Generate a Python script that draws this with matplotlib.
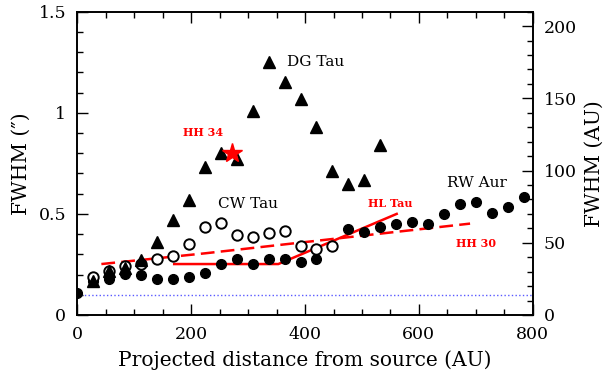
import matplotlib
matplotlib.use('Agg')
import matplotlib.pyplot as plt
from matplotlib.ticker import MultipleLocator

plt.rcParams['font.family'] = 'DejaVu Serif'

# DG Tau (filled triangles)
dg_x = [28, 56, 84, 112, 140, 168, 196, 224, 252, 280, 308, 336, 364, 392, 420, 448, 476, 504, 532]
dg_y = [0.17, 0.22, 0.23, 0.27, 0.36, 0.47, 0.57, 0.73, 0.80, 0.77, 1.01, 1.25, 1.15, 1.07, 0.93, 0.71, 0.65, 0.67, 0.84]

# CW Tau (open circles)
cw_x = [28, 56, 84, 112, 140, 168, 196, 224, 252, 280, 308, 336, 364, 392, 420, 448]
cw_y = [0.19, 0.22, 0.24, 0.25, 0.275, 0.29, 0.35, 0.435, 0.457, 0.396, 0.384, 0.407, 0.415, 0.341, 0.325, 0.341]

# RW Aur (filled circles)
rw_x = [0, 28, 56, 84, 112, 140, 168, 196, 224, 252, 280, 308, 336, 364, 392,
        420, 448, 476, 504, 532, 560, 588, 616, 644, 672, 700, 728, 756, 784]
rw_y = [0.11, 0.17, 0.18, 0.205, 0.20, 0.178, 0.178, 0.19, 0.21, 0.25, 0.275, 0.25, 0.275, 0.275, 0.26,
        0.277, 0.341, 0.424, 0.412, 0.437, 0.45, 0.46, 0.45, 0.50, 0.549, 0.557, 0.506, 0.533, 0.582]

# HL Tau (solid red) and HH 30 (dashed red)
hl_x = [170, 353, 561]
hl_y = [0.252, 0.252, 0.50]
hh30_x = [42, 224, 458, 690]
hh30_y = [0.252, 0.305, 0.379, 0.452]

# HH 34 (red star)
hh34_x = [271]
hh34_y = [0.803]

# resolution limit (blue dotted)
res_x = [0, 800]
res_y = [0.1, 0.1]

AU_PER_ARCSEC = 140

fig = plt.figure(figsize=(6.11, 3.84), dpi=100)
ax = fig.add_axes([0.1268, 0.1797, 0.745, 0.7898])

ax.plot(res_x, res_y, ':', color='#5a5aff', lw=1.0)
ax.plot(hh30_x, hh30_y, '--', color='red', lw=1.8, dashes=(5.5, 2.5))
ax.plot(hl_x, hl_y, '-', color='red', lw=1.8)
ax.plot(rw_x, rw_y, 'o', color='black', ms=7)
ax.plot(cw_x, cw_y, 'o', mfc='white', mec='black', mew=1.4, ms=7.5)
ax.plot(dg_x, dg_y, '^', color='black', ms=8)
ax.plot(hh34_x, hh34_y, '*', color='red', ms=15)

ax.text(368, 1.253, 'DG Tau', fontsize=11, va='center')
ax.text(247, 0.549, 'CW Tau', fontsize=11, va='center')
ax.text(649, 0.651, 'RW Aur', fontsize=11, va='center')
ax.text(185, 0.904, 'HH 34', fontsize=8, color='red', fontweight='bold', va='center')
ax.text(511, 0.552, 'HL Tau', fontsize=8, color='red', fontweight='bold', va='center')
ax.text(666, 0.355, 'HH 30', fontsize=8, color='red', fontweight='bold', va='center')

ax.set_xlim(0, 800)
ax.set_ylim(0, 1.5)
ax.xaxis.set_major_locator(MultipleLocator(200))
ax.xaxis.set_minor_locator(MultipleLocator(50))
ax.yaxis.set_major_locator(MultipleLocator(0.5))
ax.yaxis.set_minor_locator(MultipleLocator(0.1))
ax.yaxis.set_major_formatter(plt.FuncFormatter(lambda v, p: f'{v:g}'))
ax.tick_params(which='both', direction='in', top=True, right=False, labelsize=12.5, width=1)
ax.tick_params(which='major', length=8, pad=8)
ax.tick_params(which='minor', length=4)
ax.set_xlabel('Projected distance from source (AU)', fontsize=14.5, labelpad=5)
ax.set_ylabel('FWHM (″)', fontsize=14.5, labelpad=6)

ax2 = ax.twinx()
ax2.set_ylim(0, 1.5 * AU_PER_ARCSEC)
ax2.yaxis.set_major_locator(MultipleLocator(50))
ax2.yaxis.set_minor_locator(MultipleLocator(10))
ax2.tick_params(which='both', direction='in', labelsize=12.5, width=1)
ax2.tick_params(which='major', length=8, pad=8)
ax2.tick_params(which='minor', length=4)
ax2.set_ylabel('FWHM (AU)', fontsize=14.5, labelpad=6)

for a in (ax, ax2):
    for s in a.spines.values():
        s.set_linewidth(1.2)

fig.savefig('out.png', dpi=100)
